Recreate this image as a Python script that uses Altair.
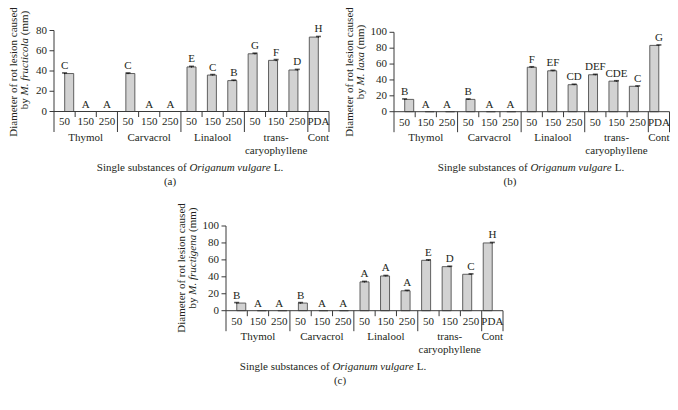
import altair as alt
import pandas as pd

# ---------------- data ----------------
sub_labels = ["50", "150", "250", "50", "150", "250", "50", "150", "250",
              "50", "150", "250", "PDA"]
group_labels = ["Thymol", "Carvacrol", "Linalool", "trans-\ncaryophyllene", "Cont"]
group_sizes = [3, 3, 3, 3, 1]

a_values = [37.5, 0, 0, 37.5, 0, 0, 44, 36, 30.5, 57, 50.5, 41, 73.5]
a_errors = [0.6, 0, 0, 0.6, 0, 0, 0.6, 0.5, 0.5, 0.6, 0.8, 0.6, 0.6]
a_letters = ["C", "A", "A", "C", "A", "A", "E", "C", "B", "G", "F", "D", "H"]
a_ticks = [0, 20, 40, 60, 80]

b_values = [15.5, 0, 0, 15.5, 0, 0, 56, 51.5, 34, 46.5, 38.5, 32, 83.5]
b_errors = [0.6, 0, 0, 0.6, 0, 0, 0.6, 0.6, 0.6, 0.6, 0.5, 0.5, 0.6]
b_letters = ["B", "A", "A", "B", "A", "A", "F", "EF", "CD", "DEF", "CDE", "C", "G"]
b_ticks = [0, 20, 40, 60, 80, 100]

c_values = [9, 0, 0, 9, 0, 0, 34, 41, 23.5, 59.5, 52, 43, 80]
c_errors = [0.6, 0, 0, 0.6, 0, 0, 0.6, 0.6, 0.6, 0.6, 0.5, 0.5, 0.6]
c_letters = ["B", "A", "A", "B", "A", "A", "A", "A", "A", "E", "D", "C", "H"]
c_ticks = [0, 20, 40, 60, 80, 100]

y_title_line1 = "Diameter of rot lesion caused"
x_title_parts = ["Single substances of", "Origanum vulgare", "L."]

# ---------------- style ----------------
FONT = "Liberation Serif"
FS = 11
TXT = "#231f20"
LINE = "#3a3a3a"
M = 8  # page margin

# approximate em widths (Times metrics) for composing mixed italic titles
EM_SPACE = 0.25
EM_BY = 1.0
EM_MM = 2.222
X_EMS = [8.166, 7.416, 0.861]


def panel(values, errors, letters, ticks, ymax, species, species_em,
          geom, ytitle_c, ytitle_off, xtitle_cx, label, label_cx):
    px0, px1, py0, pyt = geom
    x0, x1, y0, yt = px0 - M, px1 - M, py0 - M, pyt - M
    n = len(sub_labels)
    xs = alt.Scale(domain=[0, n], range=[x0, x1], nice=False, zero=False)
    ys = alt.Scale(domain=[0, ymax], range=[y0, yt], nice=False, zero=False)

    def X(f):
        return alt.X(f, type="quantitative", scale=xs, axis=None)

    def Y(f):
        return alt.Y(f, type="quantitative", scale=ys, axis=None)

    df = pd.DataFrame({
        "pos": [i + 0.5 for i in range(n)],
        "value": values,
        "err": errors,
        "letter": letters,
        "sub": sub_labels,
    })
    df["lo"] = df["value"] - df["err"]
    df["hi"] = df["value"] + df["err"]
    df["zero"] = 0.0
    dferr = df[df["err"] > 0]

    bounds = [0]
    for s in group_sizes:
        bounds.append(bounds[-1] + s)
    inner = [i for i in range(1, n) if i not in bounds]
    centers = [(bounds[k] + bounds[k + 1]) / 2 for k in range(len(group_sizes))]

    layers = []
    layers.append(alt.Chart(df).mark_bar(size=9, fill="#d2d2d2", stroke="#505050",
                                         strokeWidth=0.9)
                  .encode(x=X("pos"), y=Y("value"), y2=alt.Y2("zero")))
    layers.append(alt.Chart(dferr).mark_rule(color="#111", strokeWidth=1)
                  .encode(x=X("pos"), y=Y("lo"), y2=alt.Y2("hi")))
    layers.append(alt.Chart(dferr).mark_tick(orient="horizontal", size=5, thickness=1.6,
                                             color="#111")
                  .encode(x=X("pos"), y=Y("hi")))
    layers.append(alt.Chart(df).mark_text(font=FONT, fontSize=FS, color=TXT, dy=-4,
                                          baseline="alphabetic", align="center")
                  .encode(x=X("pos"), y=Y("hi"), text="letter:N"))
    # x axis baseline
    base = pd.DataFrame({"a": [0.0], "b": [float(n)], "zero": [0.0], "top": [float(ymax)]})
    layers.append(alt.Chart(base).mark_rule(color=LINE, strokeWidth=1)
                  .encode(x=X("a"), x2=alt.X2("b"), y=Y("zero")))
    # y axis line
    layers.append(alt.Chart(base).mark_rule(color=LINE, strokeWidth=1)
                  .encode(x=X("a"), y=Y("top"), y2=alt.Y2("zero")))
    # group separators
    sep = pd.DataFrame({"pos": [float(b) for b in bounds], "zero": 0.0})
    layers.append(alt.Chart(sep).mark_rule(color=LINE, strokeWidth=1)
                  .encode(x=X("pos"), y=Y("zero"), y2=alt.value(y0 + 20.5)))
    # inner category ticks
    inn = pd.DataFrame({"pos": [float(b) for b in inner], "zero": 0.0})
    layers.append(alt.Chart(inn).mark_rule(color=LINE, strokeWidth=1)
                  .encode(x=X("pos"), y=Y("zero"), y2=alt.value(y0 + 5.5)))
    # y ticks + labels
    tk = pd.DataFrame({"t": ticks, "lab": [str(t) for t in ticks]})
    layers.append(alt.Chart(tk).mark_rule(color=LINE, strokeWidth=1)
                  .encode(x=alt.value(x0 - 4.5), x2=alt.value(x0), y=Y("t")))
    layers.append(alt.Chart(tk).mark_text(font=FONT, fontSize=FS, color=TXT, align="right",
                                          baseline="middle")
                  .encode(x=alt.value(x0 - 7), y=Y("t"), text="lab:N"))
    # sub category labels
    layers.append(alt.Chart(df).mark_text(font=FONT, fontSize=FS, color=TXT, align="center",
                                          baseline="alphabetic")
                  .encode(x=X("pos"), y=alt.value(y0 + 13.8), text="sub:N"))
    # group labels
    gdf = pd.DataFrame({"c": centers, "g": group_labels})
    layers.append(alt.Chart(gdf).mark_text(font=FONT, fontSize=FS, color=TXT, align="center",
                                           baseline="alphabetic", lineBreak="\n",
                                           lineHeight=12.8)
                  .encode(x=X("c"), y=alt.value(y0 + 29.3), text="g:N"))
    # y title
    l1x = x0 - ytitle_off[0]
    l2x = x0 - ytitle_off[1]
    cy1 = ytitle_c[0] - M
    cy2 = ytitle_c[1] - M
    t1 = pd.DataFrame({"t": [y_title_line1]})
    layers.append(alt.Chart(t1).mark_text(font=FONT, fontSize=FS, color=TXT, angle=270,
                                          align="center", baseline="middle")
                  .encode(x=alt.value(l1x), y=alt.value(cy1), text="t:N"))
    tot2 = (EM_BY + EM_SPACE + species_em + EM_SPACE + EM_MM) * FS
    bottom = cy2 + tot2 / 2
    parts = [("by", bottom, "normal"),
             (species, bottom - (EM_BY + EM_SPACE) * FS, "italic"),
             ("(mm)", bottom - (EM_BY + 2 * EM_SPACE + species_em) * FS, "normal")]
    for txt, yy, st in parts:
        layers.append(alt.Chart(pd.DataFrame({"t": [txt]}))
                      .mark_text(font=FONT, fontSize=FS, color=TXT, angle=270, align="left",
                                 baseline="middle", fontStyle=st)
                      .encode(x=alt.value(l2x), y=alt.value(yy), text="t:N"))
    # x title
    totx = (sum(X_EMS) + 2 * EM_SPACE) * FS
    sx = xtitle_cx - M - totx / 2
    ty = y0 + 59
    offs = [0, (X_EMS[0] + EM_SPACE) * FS, (X_EMS[0] + X_EMS[1] + 2 * EM_SPACE) * FS]
    styles = ["normal", "italic", "normal"]
    for txt, off, st in zip(x_title_parts, offs, styles):
        layers.append(alt.Chart(pd.DataFrame({"t": [txt]}))
                      .mark_text(font=FONT, fontSize=FS, color=TXT, align="left",
                                 baseline="alphabetic", fontStyle=st)
                      .encode(x=alt.value(sx + off), y=alt.value(ty), text="t:N"))
    # panel label
    layers.append(alt.Chart(pd.DataFrame({"t": [label]}))
                  .mark_text(font=FONT, fontSize=FS, color=TXT, align="center",
                             baseline="alphabetic")
                  .encode(x=alt.value(label_cx - M), y=alt.value(y0 + 73.5), text="t:N"))
    return layers


layers = []
layers += panel(a_values, a_errors, a_letters, a_ticks, 80, "M. fructicola", 5.222,
                (54, 329, 111.5, 30.5), (72, 60), (40, 29), 190, "(a)", 170)
layers += panel(b_values, b_errors, b_letters, b_ticks, 100, "M. laxa", 3.055,
                (394, 669.5, 111.7, 32.3), (72, 62), (44.5, 33), 531, "(b)", 510)
layers += panel(c_values, c_errors, c_letters, c_ticks, 100, "M. fructigena", 5.444,
                (226, 503, 310.7, 226), (268, 258), (44.5, 33), 333, "(c)", 340)

chart = (alt.layer(*layers)
         .resolve_scale(x="independent", y="independent")
         .properties(width=662, height=394, autosize=alt.AutoSizeParams(type="none"),
                     padding=0, background="white")
         .configure_view(stroke=None))

chart.save("out.html", embed_options={"renderer": "svg", "actions": False})
